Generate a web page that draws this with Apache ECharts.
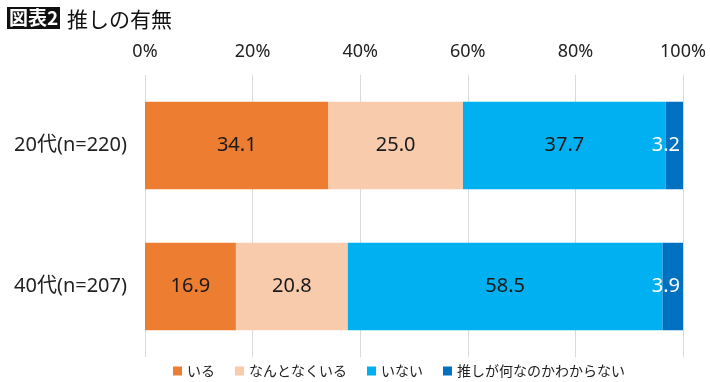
<!DOCTYPE html>
<html><head><meta charset="utf-8">
<script src="https://cdn.jsdelivr.net/npm/echarts@6/dist/echarts.min.js"></script>
<style>html,body{margin:0;padding:0;background:#fff}#c{width:710px;height:382px}</style>
</head><body><div id="c"></div>
<script>
const categories = ['20代(n=220)', '40代(n=207)'];
const seriesNames = ['いる', 'なんとなくいる', 'いない', '推しが何なのかわからない'];
const iru = [34.1, 16.9];
const nantonaku = [25.0, 20.8];
const inai = [37.7, 58.5];
const wakaranai = [3.2, 3.9];
const tickLabels = ['0%', '20%', '40%', '60%', '80%', '100%'];

const FONT = '"Noto Sans", "Noto Sans CJK JP", sans-serif';
const CJK = '"Noto Sans CJK JP", "Noto Sans", sans-serif';
const colors = ['#ED7D31', '#F8CBAD', '#00B0F0', '#0070C0'];
const values = [iru, nantonaku, inai, wakaranai];

const chart = echarts.init(document.getElementById('c'));
chart.setOption({
  animation: false,
  textStyle: { fontFamily: FONT },
  graphic: [
    { type: 'rect', shape: { x: 7, y: 7, width: 53, height: 22 }, style: { fill: '#111' } },
    { type: 'text', style: { x: 9, y: 18, text: '図表2', fill: '#fff', font: 'bold 19px ' + CJK, textVerticalAlign: 'middle' } },
    { type: 'text', style: { x: 67, y: 19, text: '推しの有無', fill: '#111', font: '21px ' + CJK, textVerticalAlign: 'middle' } }
  ],
  legend: {
    top: 359, left: 168, itemWidth: 9, itemHeight: 9, itemGap: 20,
    icon: 'rect',
    textStyle: { fontSize: 14, color: '#222', fontFamily: CJK },
    data: seriesNames
  },
  grid: { left: 145, right: 27, top: 75, bottom: 25 },
  xAxis: {
    type: 'value', position: 'top', min: 0, max: 100, interval: 20,
    axisLine: { show: false }, axisTick: { show: false },
    splitLine: { lineStyle: { color: '#D9D9D9', width: 1 } },
    axisLabel: { fontSize: 18, color: '#222', margin: 14, fontFamily: FONT,
      formatter: (v) => tickLabels[Math.round(v / 20)] }
  },
  yAxis: {
    type: 'category', inverse: true, data: categories,
    axisLine: { show: false }, axisTick: { show: false },
    axisLabel: { fontSize: 20, color: '#222', margin: 18, fontFamily: FONT }
  },
  series: seriesNames.map((name, i) => ({
    name, type: 'bar', stack: 'total', barWidth: '62%',
    itemStyle: { color: colors[i] },
    label: {
      show: true,
      position: i === 3 ? 'insideRight' : 'inside',
      distance: 3,
      fontSize: 20, fontFamily: FONT,
      color: i === 3 ? '#fff' : '#1a1a1a',
      formatter: (p) => p.value.toFixed(1)
    },
    data: values[i]
  }))
});
</script></body></html>
